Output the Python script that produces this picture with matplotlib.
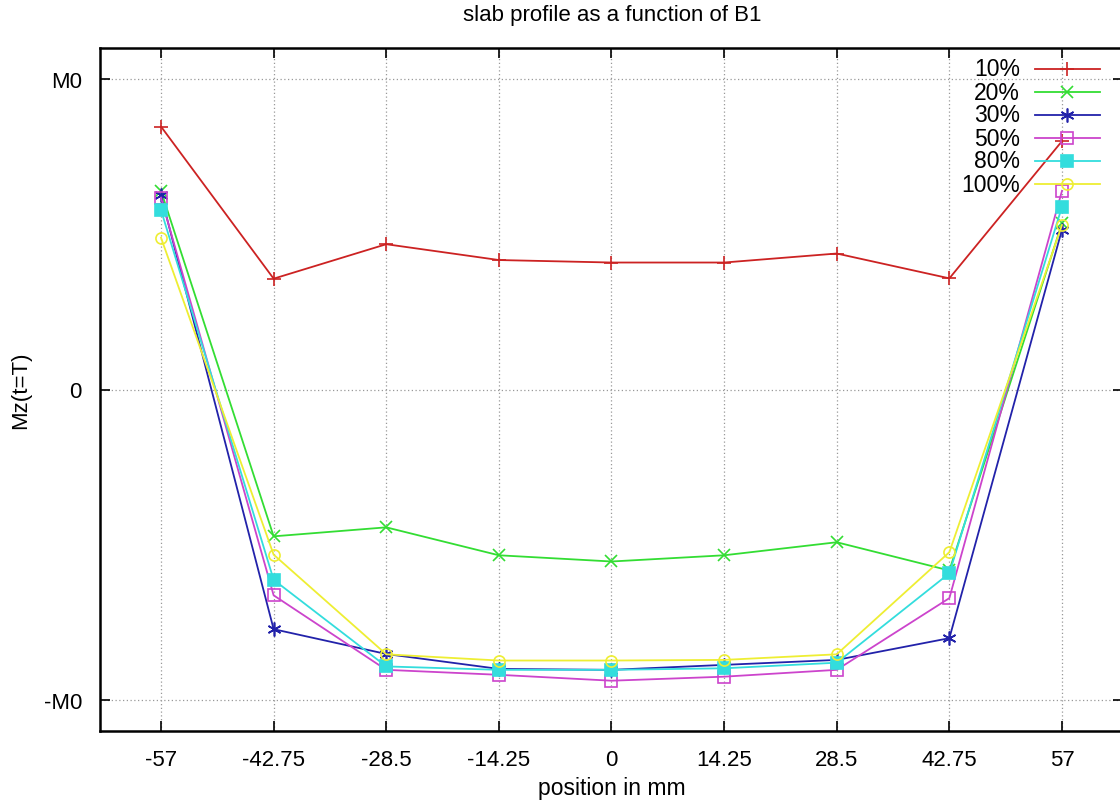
import matplotlib
matplotlib.use("Agg")
import matplotlib.pyplot as plt
from matplotlib.lines import Line2D

plt.rcParams['font.family'] = ['Liberation Sans', 'DejaVu Sans']

positions = [-57, -42.75, -28.5, -14.25, 0, 14.25, 28.5, 42.75, 57]
tick_labels = ['-57', '-42.75', '-28.5', '-14.25', '0', '14.25', '28.5', '42.75', '57']

s10 = [0.847, 0.357, 0.468, 0.417, 0.409, 0.409, 0.438, 0.358, 0.800]
s20 = [0.640, -0.473, -0.444, -0.534, -0.554, -0.534, -0.492, -0.583, 0.535]
s30 = [0.625, -0.772, -0.852, -0.900, -0.903, -0.887, -0.871, -0.801, 0.515]
s50 = [0.618, -0.663, -0.903, -0.919, -0.938, -0.925, -0.903, -0.672, 0.640]
s80 = [0.578, -0.613, -0.892, -0.903, -0.903, -0.898, -0.880, -0.592, 0.589]
s100 = [0.489, -0.532, -0.853, -0.873, -0.873, -0.871, -0.853, -0.524, 0.530]

labels = ['10%', '20%', '30%', '50%', '80%', '100%']
series = [s10, s20, s30, s50, s80, s100]
colors = ['#cc2222', '#33dd33', '#2222aa', '#cc44cc', '#33dddd', '#eeee33']
markers = ['+', 'x', (6, 2, 0), 's', 's', 'o']
fills = [True, True, True, False, True, False]
msizes = [10, 9, 10, 8, 8, 8]

fig = plt.figure(figsize=(11.2, 8.03), dpi=100)
W, H = 1120, 803
left, right, top, bottom = 100, 1123, 49, 732
ax = fig.add_axes([left / W, 1 - bottom / H, (right - left) / W, (bottom - top) / H])

for vals, lab, c, m, f, ms in zip(series, labels, colors, markers, fills, msizes):
    ax.plot(positions, vals, color=c, lw=1.3, marker=m, markersize=ms,
            markerfacecolor=(c if f else 'none'), markeredgecolor=c,
            markeredgewidth=1.2, clip_on=False, zorder=3)

ax.set_xlim(-64.72, 64.72)
ax.set_ylim(-1.1, 1.1)
ax.set_xticks(positions)
ax.set_xticklabels(tick_labels)
ax.set_yticks([-1, 0, 1])
ax.set_yticklabels(['-M0', '0', 'M0'])
ax.tick_params(direction='in', length=7, width=1.2, labelsize=16, pad=13,
               top=True, right=True, colors='black')
ax.tick_params(axis='y', pad=13)
ax.grid(True, color='#999999', linestyle=(0, (1, 2)), linewidth=0.9)
for sp in ax.spines.values():
    sp.set_linewidth(1.8)
    sp.set_color('black')

fig.text(612 / W, 1 - 789 / H, 'position in mm', ha='center', va='center', fontsize=16.5)
fig.text(21 / W, 1 - 390 / H, 'Mz(t=T)', ha='center', va='center', fontsize=16, rotation=90)
fig.text(612 / W, 1 - 16 / H, 'slab profile as a function of B1', ha='center', va='center', fontsize=16)

# manual legend (right-aligned labels, samples on the right)
row_y = [70, 93, 116, 139, 162, 185]
for lab, c, m, f, ms, yy in zip(labels, colors, markers, fills, msizes, row_y):
    yf = 1 - yy / H
    fig.text(1020 / W, yf, lab, ha='right', va='center', fontsize=16.5)
    fig.add_artist(Line2D([1035 / W, 1100 / W], [yf, yf], transform=fig.transFigure,
                          color=c, lw=1.3, zorder=5))
    fig.add_artist(Line2D([1067 / W], [yf], transform=fig.transFigure, color=c,
                          marker=m, markersize=ms, markerfacecolor=(c if f else 'none'),
                          markeredgecolor=c, markeredgewidth=1.2, linestyle='none', zorder=6))

fig.savefig('out.png', dpi=100, facecolor='white')
